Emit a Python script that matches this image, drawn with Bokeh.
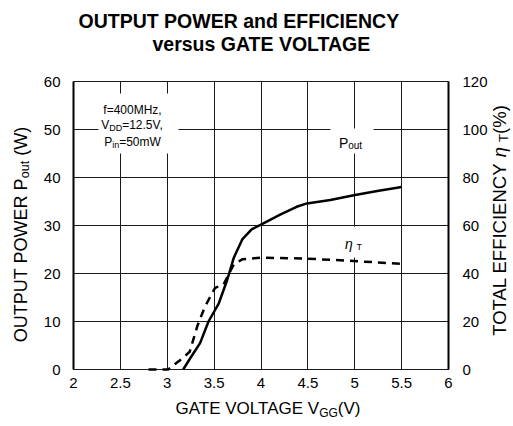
import math
from bokeh.plotting import figure
from bokeh.models import Range1d, LinearAxis, FixedTicker, Label
from bokeh.embed import file_html
from bokeh.resources import INLINE

# ---------------- data ----------------
vgg_pout = [3.17, 3.25, 3.35, 3.44, 3.55, 3.64, 3.71, 3.80, 3.90, 4.01, 4.21, 4.38, 4.49, 4.74, 4.99, 5.24, 5.50]
pout = [0.0, 2.5, 5.5, 10.0, 13.8, 18.7, 23.3, 27.1, 29.2, 30.3, 32.3, 33.9, 34.6, 35.3, 36.3, 37.2, 38.0]

vgg_eff = [2.80, 3.01, 3.14, 3.24, 3.32, 3.40, 3.51, 3.60, 3.71, 3.80, 3.99, 4.49, 4.99, 5.50]
eff = [0.0, 0.0, 4.0, 7.4, 18.0, 26.0, 34.0, 35.4, 43.8, 45.9, 46.6, 46.2, 45.2, 44.0]

x_ticks = [2, 2.5, 3, 3.5, 4, 4.5, 5, 5.5, 6]
x_tick_labels = ["2", "2.5", "3", "3.5", "4", "4.5", "5", "5.5", "6"]
pout_ticks = [0, 10, 20, 30, 40, 50, 60]
eff_ticks = [0, 20, 40, 60, 80, 100, 120]

title_lines = ["OUTPUT POWER and EFFICIENCY", "versus GATE VOLTAGE"]

# ---------------- layout ----------------
FONT = "Liberation Sans"
W, H = 513, 426
X0, X1 = x_ticks[0], x_ticks[-1]
Y0, Y1 = pout_ticks[0], pout_ticks[-1]
EFF_K = eff_ticks[-1] / pout_ticks[-1]
FL, FT, FW, FH = 73, 81, 375, 288          # plot area in canvas px
XS = FW / (X1 - X0)
YS = FH / (Y1 - Y0)
BASE_FIX = 4                               # label baseline correction (px)


def dx(X):  # canvas px -> data x
    return X0 + (X - FL) / XS


def dy(Y):  # canvas px -> data y
    return Y1 - (Y - FT) / YS


WID = {' ': 278, '(': 333, ')': 333, '%': 889, '.': 278, ',': 278, '=': 584,
       'A': 667, 'C': 722, 'D': 722, 'E': 667, 'F': 611, 'G': 778, 'H': 722, 'I': 278,
       'L': 556, 'M': 833, 'N': 722, 'O': 778, 'P': 667, 'R': 722, 'T': 611, 'U': 722,
       'V': 667, 'W': 944, 'Y': 667,
       'a': 556, 'd': 556, 'f': 278, 'i': 222, 'm': 833, 'n': 556, 'o': 556, 'r': 333,
       's': 500, 't': 278, 'u': 556, 'v': 500, 'z': 500, 'e': 556, 'η': 556}
KERN = {"AT": -74, "TA": -74, "LT": -74, "AV": -74, "VA": -74, "AY": -74, "YA": -74,
        "LV": -74, "LY": -74}


def tw(s, size):
    u = sum(WID.get(c, 556) for c in s)
    u += sum(KERN.get(s[i:i + 2], 0) for i in range(len(s) - 1))
    return u * size / 1000.0


# the frame covers the whole canvas; axes are pinned with fixed_location
p = figure(frame_width=W, frame_height=H,
           x_range=Range1d(dx(0), dx(W)), y_range=Range1d(dy(H), dy(0)),
           output_backend="svg", toolbar_location=None, min_border=0,
           x_axis_location="below", y_axis_location="left")
p.extra_y_ranges = {"eff": Range1d(dy(H) * EFF_K, dy(0) * EFF_K)}
p.background_fill_color = "white"
p.border_fill_color = "white"
p.outline_line_color = None
p.xgrid.visible = False
p.ygrid.visible = False

xax = p.xaxis[0]
yax = p.yaxis[0]
rax = LinearAxis(y_range_name="eff")
p.add_layout(rax, "right")

xax.ticker = FixedTicker(ticks=x_ticks)
xax.major_label_overrides = {t: l for t, l in zip(x_ticks, x_tick_labels)}
xax.fixed_location = Y0
xax.bounds = (X0, X1)
yax.ticker = FixedTicker(ticks=pout_ticks)
yax.fixed_location = X0
yax.bounds = (Y0, Y1)
rax.ticker = FixedTicker(ticks=eff_ticks)
rax.fixed_location = X1
rax.bounds = (eff_ticks[0], eff_ticks[-1])

for ax in [xax, yax, rax]:
    ax.major_tick_out = 0
    ax.minor_tick_out = 0
    ax.minor_tick_in = 0
    ax.axis_line_color = "black"
    ax.major_label_text_font = FONT
    ax.major_label_text_font_size = "15px"
    ax.major_label_text_color = "black"
    ax.major_tick_line_color = "#1a1a1a"
    ax.major_tick_line_width = 1

# major ticks drawn across the plot area act as the grid
xax.major_tick_in = FH
yax.major_tick_in = FW
rax.major_tick_in = 0
xax.level = "underlay"
yax.level = "underlay"

xax.axis_line_width = 1
xax.major_label_standoff = 8
yax.axis_line_width = 2
yax.major_label_standoff = 13
rax.axis_line_width = 2
rax.major_label_standoff = 14

# white boxes behind annotation texts (cover the grid)
p.quad(left=[dx(98), dx(330), dx(341)], right=[dx(178), dx(373), dx(366)],
       top=[dy(93), dy(128), dy(226)], bottom=[dy(153), dy(153), dy(257)],
       fill_color="white", line_color=None)

# curves
p.line(vgg_pout, pout, line_width=2.5, line_color="black")
p.line(vgg_eff, eff, y_range_name="eff", line_width=2.5, line_color="black", line_dash="8 6")


def hrun(pieces, X, Ybase, center=True):
    total = sum(tw(t, s) for t, s, _, _ in pieces)
    cur = X - total / 2 if center else X
    for t, s, sh, style in pieces:
        lead = tw(t[:len(t) - len(t.lstrip())], s)
        if t.strip():
            p.add_layout(Label(x=dx(cur + lead), y=dy(Ybase + sh - BASE_FIX), text=t.strip(),
                               text_font=FONT, text_font_size=f"{s}px", text_font_style=style,
                               text_color="black", text_align="left", text_baseline="alphabetic"))
        cur += tw(t, s)


def vrun(pieces, Xbase, Ycenter):
    total = sum(tw(t, s) for t, s, _, _ in pieces)
    cur = Ycenter + total / 2
    for t, s, sh, style in pieces:
        lead = tw(t[:len(t) - len(t.lstrip())], s)
        if t.strip():
            p.add_layout(Label(x=dx(Xbase + sh - BASE_FIX), y=dy(cur - lead), text=t.strip(),
                               text_font=FONT, text_font_size=f"{s}px", text_font_style=style,
                               angle=math.pi / 2, text_color="black", text_align="left",
                               text_baseline="alphabetic"))
        cur -= tw(t, s)


# title
hrun([(title_lines[0], 19.5, 0, "bold")], 78, 24, center=False)
hrun([(title_lines[1], 19.5, 0, "bold")], 152, 47, center=False)

# axis titles
hrun([("GATE VOLTAGE V", 17, 0, "normal"), ("GG", 12, 4, "normal"), ("(V)", 17, 0, "normal")], 267.5, 412)
vrun([("OUTPUT POWER P", 18, 0, "normal"), ("out", 12.5, 4, "normal"), (" (W)", 18, 0, "normal")], 24, 234)
vrun([("TOTAL EFFICIENCY ", 18.5, 0, "normal"), ("η", 18.5, 0, "italic"), (" ", 18.5, 0, "normal"),
      ("T", 13, 4, "normal"), ("(%)", 18.5, 0, "normal")], 503, 220)

# condition box
hrun([("f=400MHz,", 12, 0, "normal")], 132, 113.5)
hrun([("V", 12, 0, "normal"), ("DD", 9, 3, "normal"), ("=12.5V,", 12, 0, "normal")], 132, 128.5)
hrun([("P", 12, 0, "normal"), ("in", 9, 3, "normal"), ("=50mW", 12, 0, "normal")], 132, 145.5)

# curve labels
hrun([("P", 14, 0, "normal"), ("out", 10, 3, "normal")], 350, 146)
hrun([("η", 14, 0, "italic"), (" ", 14, 0, "normal"), ("T", 9, 3, "normal")], 353, 247)

open("out.html", "w").write(file_html(p, INLINE))
